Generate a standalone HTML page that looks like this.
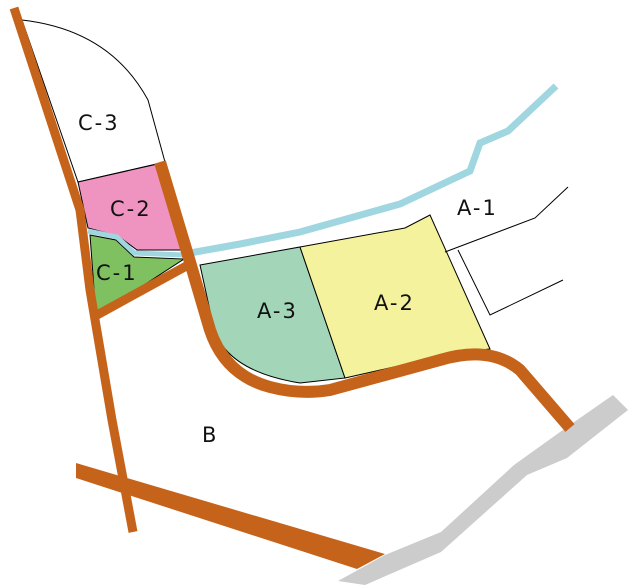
<!DOCTYPE html>
<html><head><meta charset="utf-8"><style>
html,body{margin:0;padding:0;background:#fff;width:630px;height:588px;overflow:hidden}
text{font-family:"DejaVu Sans","Liberation Sans",sans-serif;font-size:21px;fill:#111;letter-spacing:2px}
</style></head><body>
<svg width="630" height="588" viewBox="0 0 630 588" xmlns="http://www.w3.org/2000/svg">
<path d="M22,20 Q110,30 148,100 L165,162 L78,182 Z" fill="#fff" stroke="#000" stroke-width="1"/>
<path d="M78,182 L162,163 L183,250 L137,250 L118,236 L88,228 Z" fill="#ef94c0" stroke="#000" stroke-width="1"/>
<path d="M90,235 L116,240 L134,257 L184,259 L96,316 Z" fill="#7fc160" stroke="#000" stroke-width="1"/>
<polyline points="88,231 117,237 134,253 184,255" fill="none" stroke="#9fd6e0" stroke-width="5"/>
<path d="M200,265 L300,247 L345,378 L300,383 Q220,370 212,320 Z" fill="#a3d5b9" stroke="#000" stroke-width="1"/>
<path d="M300,247 L405,228 L430,215 L490,349 L460,352 L345,378 Z" fill="#f4f29c" stroke="#000" stroke-width="1"/>
<polyline points="445,252 535,218 568,187" fill="none" stroke="#000" stroke-width="1"/>
<polyline points="458,250 490,315 563,280" fill="none" stroke="#000" stroke-width="1"/>
<polyline points="190,253 240,244 300,232 350,218 400,204 470,171 480,143 508,131 556,86" fill="none" stroke="#9fd6e0" stroke-width="7"/>
<polygon points="338,581 385,555 441,532 514,465 567,427 613,395 628,410 567,458 527,475 441,552 365,585" fill="#cccccc"/>
<g fill="none" stroke="#c6631b" stroke-linejoin="round">
<polyline points="14,8 80,210 90,290 112,420 133,532" stroke-width="9"/>
<line x1="97" y1="315" x2="190" y2="264" stroke-width="9"/>
<path d="M160,162 L190,262 L210,330 Q225,375 270,387 Q300,395 330,390 L440,360 Q490,345 520,370 L570,428" stroke-width="12"/>
</g>
<polygon points="76,463 385,554 357,569 76,478" fill="#c6631b"/>
<text x="78" y="130">C-3</text>
<text x="110" y="216">C-2</text>
<text x="96" y="280">C-1</text>
<text x="257" y="318">A-3</text>
<text x="374" y="310">A-2</text>
<text x="457" y="215">A-1</text>
<text x="202" y="442">B</text>
</svg>
</body></html>
